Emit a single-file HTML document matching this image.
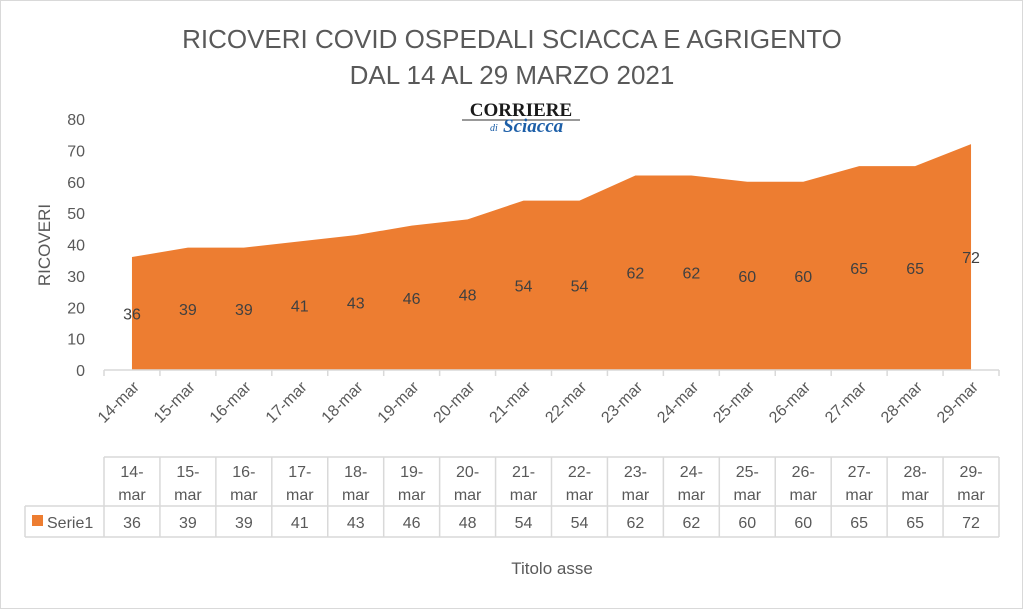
<!DOCTYPE html>
<html><head><meta charset="utf-8"><style>
body{margin:0;background:#fff;}
svg{font-family:"Liberation Sans",sans-serif;}
</style></head><body>
<svg width="1024" height="610" viewBox="0 0 1024 610">
<rect x="0.5" y="0.5" width="1022" height="608" fill="#fff" stroke="#d9d9d9"/>
<text x="512" y="48" text-anchor="middle" font-size="26" fill="#595959">RICOVERI COVID OSPEDALI SCIACCA E AGRIGENTO</text>
<text x="512" y="84" text-anchor="middle" font-size="26" fill="#595959">DAL 14 AL 29 MARZO 2021</text>
<g>
<text x="521" y="116" text-anchor="middle" font-family="Liberation Serif,serif" font-size="19" font-weight="bold" fill="#1a1a1a">CORRIERE</text>
<line x1="462" y1="120" x2="580" y2="120" stroke="#333" stroke-width="1"/>
<text x="490" y="131" font-family="Liberation Serif,serif" font-style="italic" font-size="10" fill="#1d5fa8">di</text>
<text x="503" y="132" font-family="Liberation Serif,serif" font-style="italic" font-weight="bold" font-size="19" fill="#1d5fa8">Sciacca</text>
</g>
<text transform="translate(50,245) rotate(-90)" text-anchor="middle" font-size="17" fill="#595959">RICOVERI</text>
<g id="yticks"></g>
<g id="plot"></g>
<g id="table"></g>
<text x="552" y="574" text-anchor="middle" font-size="17" fill="#595959">Titolo asse</text>
</svg>
<script>
const categories=["14-mar","15-mar","16-mar","17-mar","18-mar","19-mar","20-mar","21-mar","22-mar","23-mar","24-mar","25-mar","26-mar","27-mar","28-mar","29-mar"];
const values=[36,39,39,41,43,46,48,54,54,62,62,60,60,65,65,72];
const yTicks=[0,10,20,30,40,50,60,70,80];
const NS="http://www.w3.org/2000/svg";
const x0=104,x1=999,yBase=370,yTop=119,yMax=80;
const cw=(x1-x0)/categories.length;
const xs=i=>x0+cw*(i+0.5);
const ys=v=>yBase-(yBase-yTop)*v/yMax;
function mk(tag,attrs,parent,txt){const e=document.createElementNS(NS,tag);for(const k in attrs)e.setAttribute(k,attrs[k]);if(txt!==undefined)e.textContent=txt;parent.appendChild(e);return e;}
const yt=document.getElementById('yticks');
yTicks.forEach(t=>{const e=mk('text',{x:85,y:ys(t)+6,'text-anchor':'end','font-size':16,fill:'#595959'},yt,t);

});
const p=document.getElementById('plot');
let d=`M${xs(0)},${yBase}`;values.forEach((v,i)=>{d+=` L${xs(i)},${ys(v)}`;});d+=` L${xs(values.length-1)},${yBase} Z`;
const area=mk('path',{d:d,fill:'#ed7d31'},p);


const ax=mk('line',{x1:x0,y1:yBase,x2:x1,y2:yBase,stroke:'#d9d9d9','stroke-width':1.5},p);


for(let i=0;i<=categories.length;i++){const t=mk('line',{x1:x0+cw*i,y1:yBase,x2:x0+cw*i,y2:yBase+6,stroke:'#d9d9d9','stroke-width':1.5},p);

}
values.forEach((v,i)=>{const l=mk('text',{x:xs(i),y:ys(v/2)+6,'text-anchor':'middle','font-size':16,fill:'#404040'},p,v);

});
categories.forEach((c,i)=>{const l=mk('text',{transform:`translate(${xs(i)+8},${yBase+18}) rotate(-45)`,'text-anchor':'end','font-size':16,fill:'#595959'},p,c);

});
const tb=document.getElementById('table');
const tTop=457,tMid=506,tBot=537,lx=25;
const st={stroke:'#d9d9d9','stroke-width':1.5,fill:'none'};
mk('line',Object.assign({x1:x0,y1:tTop,x2:x1,y2:tTop},st),tb);
mk('line',Object.assign({x1:lx,y1:tMid,x2:x1,y2:tMid},st),tb);
mk('line',Object.assign({x1:lx,y1:tBot,x2:x1,y2:tBot},st),tb);
mk('line',Object.assign({x1:lx,y1:tMid,x2:lx,y2:tBot},st),tb);
for(let i=0;i<=categories.length;i++){mk('line',Object.assign({x1:x0+cw*i,y1:tTop,x2:x0+cw*i,y2:tBot},st),tb);}
categories.forEach((c,i)=>{const parts=c.split('-');
const a=mk('text',{x:xs(i),y:tTop+20,'text-anchor':'middle','font-size':16,fill:'#595959'},tb,parts[0]+'-');


const b=mk('text',{x:xs(i),y:tTop+43,'text-anchor':'middle','font-size':16,fill:'#595959'},tb,parts[1]);


const v=mk('text',{x:xs(i),y:tBot-9,'text-anchor':'middle','font-size':16,fill:'#595959'},tb,values[i]);

});
const sw=mk('rect',{x:32,y:515,width:11,height:11,fill:'#ed7d31'},tb);


const lt=mk('text',{x:47,y:tBot-9,'font-size':16,fill:'#595959'},tb,'Serie1');


</script>
</body></html>
